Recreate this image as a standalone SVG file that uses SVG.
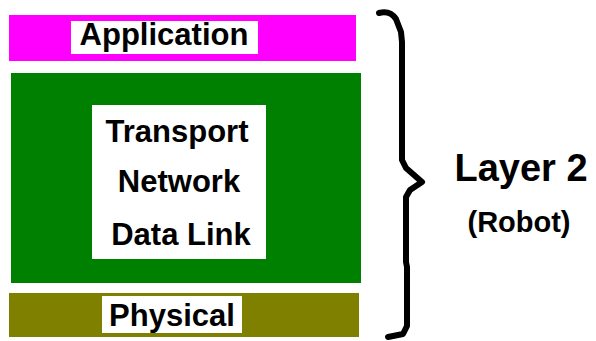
<svg xmlns="http://www.w3.org/2000/svg" width="596" height="341" viewBox="0 0 596 341">
<style>
.lbl{font-family:"Liberation Sans",Arial,sans-serif;font-weight:bold;font-size:31px;fill:#000;text-anchor:middle}
.box{fill:#fff}
.brace{fill:none;stroke:#000;stroke-width:6;stroke-linejoin:round;stroke-linecap:round}
</style>
<rect width="596" height="341" fill="#fff"/>
<g id="application">
<rect x="9" y="15" width="347" height="46" fill="#ff00ff"/>
<rect class="box" x="71" y="21" width="187" height="33"/>
<text class="lbl" x="164" y="45">Application</text>
</g>
<g id="middle">
<rect x="11" y="73" width="350" height="210" fill="#008000"/>
<rect class="box" x="92" y="105" width="174" height="154"/>
<text class="lbl" x="177" y="142">Transport</text>
<text class="lbl" x="179" y="192">Network</text>
<text class="lbl" x="181" y="245">Data Link</text>
</g>
<g id="physical">
<rect x="9" y="293" width="350" height="44" fill="#808000"/>
<rect class="box" x="102" y="296" width="140" height="37"/>
<text class="lbl" x="172" y="326">Physical</text>
</g>
<g id="connectors">
<path class="brace" d="M379,13 C387,11 392,13 396,19 L401,32 L402,42 L402,160 L406,168 L422,182 L410,190 L406,197 L406,262 L407,267 L407,326 L403,334 L388,337"/>
</g>
<g id="layer2">
<text x="521" y="181" font-family="Liberation Sans,Arial,sans-serif" font-weight="bold" font-size="38" text-anchor="middle">Layer 2</text>
<text x="519" y="232" font-family="Liberation Sans,Arial,sans-serif" font-weight="bold" font-size="29" text-anchor="middle">(Robot)</text>
</g>
</svg>
